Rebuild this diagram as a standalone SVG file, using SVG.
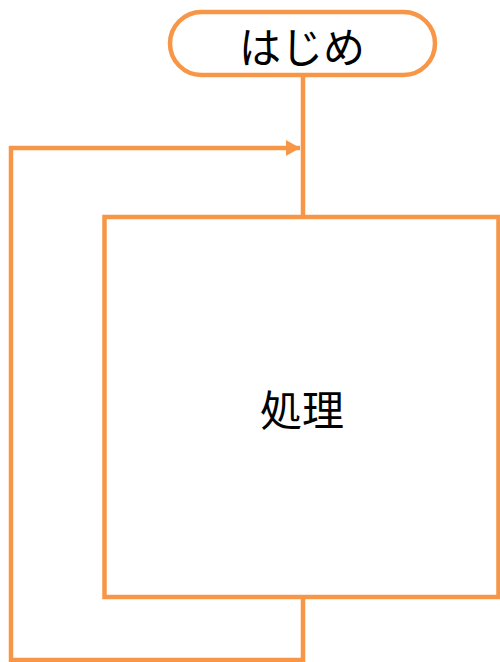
<svg xmlns="http://www.w3.org/2000/svg" width="500" height="662" viewBox="0 0 500 662">
<style>
.s{fill:#fff;stroke:#F79646;stroke-width:4.5}
.c{fill:none;stroke:#F79646;stroke-width:4.5}
.t{font-family:"Noto Sans CJK JP","Noto Sans CJK SC",sans-serif;font-size:42px;fill:#000;text-anchor:middle}
</style>
<defs>
<marker id="ah" markerUnits="userSpaceOnUse" markerWidth="16" markerHeight="16" refX="14" refY="8" orient="auto">
<path d="M0,0 L14,8 L0,16 Z" fill="#F79646"/>
</marker>
</defs>
<rect width="500" height="662" fill="#fff"/>
<g id="connectors">
<path class="c" d="M303,75 V216"/>
<path class="c" d="M303,597 V660 H11 V148 H300" marker-end="url(#ah)"/>
</g>
<g id="start">
<rect class="s" x="170" y="12" width="265" height="63" rx="31.5"/>
<text class="t" x="302" y="63">はじめ</text>
</g>
<g id="process">
<rect class="s" x="104.5" y="217" width="394" height="380"/>
<text class="t" x="302" y="426">処理</text>
</g>
</svg>
